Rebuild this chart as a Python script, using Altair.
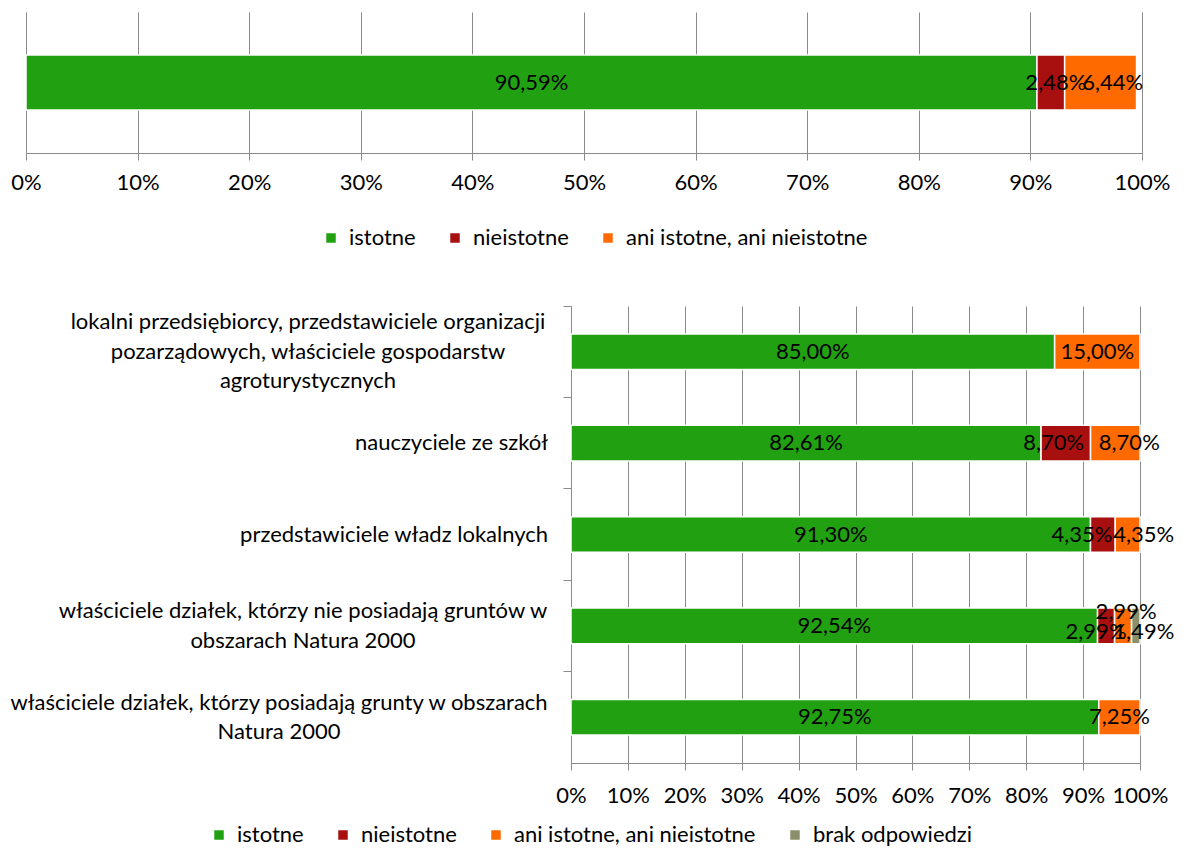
import altair as alt
import pandas as pd

FONT = "Lato"
FS = 22
GRID = "#8a8a8a"
LINE_H = 29.5

categories = ["istotne", "nieistotne", "ani istotne, ani nieistotne", "brak odpowiedzi"]
colors = ["#21A112", "#A80F0F", "#FF6A00", "#8C8F6B"]

# top chart (single bar)
top_values = [90.59, 2.48, 6.44]

# bottom chart
group_labels = [
    "lokalni przedsiębiorcy, przedstawiciele organizacji\npozarządowych, właściciele gospodarstw\nagroturystycznych",
    "nauczyciele ze szkół",
    "przedstawiciele władz lokalnych",
    "właściciele działek, którzy nie posiadają gruntów w\nobszarach Natura 2000",
    "właściciele działek, którzy posiadają grunty w obszarach\nNatura 2000",
]
istotne = [85.00, 82.61, 91.30, 92.54, 92.75]
nieistotne = [0, 8.70, 4.35, 2.99, 0]
ani = [15.00, 8.70, 4.35, 2.99, 7.25]
brak = [0, 0, 0, 1.49, 0]

tick_values = [0, 0.1, 0.2, 0.3, 0.4, 0.5, 0.6, 0.7, 0.8, 0.9, 1.0]

# label nudges (pixels) where Excel moved overlapping labels apart
top_nudge = {1: (5, 0), 2: (12, 0)}
bottom_nudge = {
    (1, 1): (-12, 0), (1, 2): (14, 0),
    (2, 1): (-21, 0), (2, 2): (16, 0),
    (3, 1): (-10, 6), (3, 2): (3, -14), (3, 3): (8, 6),
}
# category-label placement in the label panel (pixels): right edge of
# single-line labels, and centre of each multi-line label block
LABEL_RIGHT = 522
label_center = {0: 282, 3: 277, 4: 253}


def pct_label(v):
    return f"{v:.2f}".replace(".", ",") + "%"


top_df = pd.DataFrame({
    "grp": ["all"] * len(top_values),
    "gi": [0] * len(top_values),
    "ci": list(range(len(top_values))),
    "cat": categories[:len(top_values)],
    "value": [v / 100 for v in top_values],
    "label": [pct_label(v) for v in top_values],
})

rows = []
series = [istotne, nieistotne, ani, brak]
for gi, g in enumerate(group_labels):
    for ci, cat in enumerate(categories):
        v = series[ci][gi]
        if v > 0:
            rows.append(dict(grp=g, gi=gi, ci=ci, cat=cat, value=v / 100, label=pct_label(v)))
bot_df = pd.DataFrame(rows)
grp_df = pd.DataFrame({"grp": group_labels, "gi": list(range(len(group_labels)))})


def x_axis(pad):
    return alt.Axis(format=".0%", values=tick_values, grid=True, gridColor=GRID, gridWidth=1,
                    domainColor=GRID, domainWidth=1, tickColor=GRID, tickWidth=1, tickSize=7,
                    labelPadding=pad, labelFont=FONT, labelFontSize=FS, labelColor="#000",
                    labelOverlap=False, labelFlush=False, title=None)


def build(df, cats, y_sort, y_axis, legend, nudges, keyf, pad):
    base = alt.Chart(df).transform_stack(
        stack="value", as_=["v0", "v1"], groupby=["grp"], sort=[alt.SortField("ci")]
    ).transform_calculate(mid="(datum.v0 + datum.v1) / 2")
    yenc = alt.Y("grp:N", sort=y_sort, axis=y_axis,
                 scale=alt.Scale(paddingInner=0, paddingOuter=0))
    bars = base.mark_bar(stroke="white", strokeWidth=1.5, height={"band": 0.39}).encode(
        x=alt.X("v0:Q", scale=alt.Scale(domain=[0, 1], nice=False), axis=x_axis(pad)),
        x2="v1:Q",
        y=yenc,
        color=alt.Color("cat:N", scale=alt.Scale(domain=cats, range=colors[:len(cats)]),
                        legend=legend),
    )
    layers = [bars]
    conds = []
    for key, (dx, dy) in nudges.items():
        cond = keyf(key)
        conds.append(cond)
        layers.append(base.transform_filter(cond).mark_text(
            font=FONT, fontSize=FS, color="#000", dx=dx, dy=dy).encode(
            x="mid:Q", y=alt.Y("grp:N", sort=y_sort), text="label:N"))
    default_filter = "!(" + " || ".join(conds) + ")" if conds else "true"
    layers.insert(1, base.transform_filter(default_filter).mark_text(
        font=FONT, fontSize=FS, color="#000").encode(
        x="mid:Q", y=alt.Y("grp:N", sort=y_sort), text="label:N"))
    return layers


legend_common = dict(orient="none", direction="horizontal", title=None, symbolType="square",
                     symbolSize=90, symbolStrokeWidth=0, labelFont=FONT, labelFontSize=FS,
                     labelColor="#000", columnPadding=28, labelOffset=7, labelLimit=0)

top_layers = build(
    top_df, categories[:3], ["all"],
    alt.Axis(labels=False, ticks=False, domain=False, grid=False, title=None, minExtent=18, maxExtent=18),
    alt.Legend(legendX=294, legendY=215, **legend_common),
    top_nudge, lambda k: f"datum.ci == {k}", 12,
)
top = alt.layer(*top_layers).properties(width=1116, height=141)

bot_layers = build(
    bot_df, categories, group_labels,
    alt.Axis(labels=False, ticks=True, tickSize=8, tickColor=GRID, bandPosition=0, domain=True,
             domainColor=GRID, grid=False, title=None),
    alt.Legend(legendX=-363, legendY=518, **legend_common),
    bottom_nudge, lambda k: f"(datum.gi == {k[0]} && datum.ci == {k[1]})", 15,
)
bars_panel = alt.layer(*bot_layers).properties(width=569, height=457)

# category label panel
ly = alt.Y("grp:N", sort=group_labels, axis=None, scale=alt.Scale(paddingInner=0, paddingOuter=0))
label_layers = [
    alt.Chart(grp_df).transform_filter(
        "indexof(datum.grp, '\\n') < 0").mark_text(
        font=FONT, fontSize=FS, color="#000", align="right", baseline="middle").encode(
        y=ly, x=alt.value(LABEL_RIGHT), text="grp:N")
]
for gi, cx in label_center.items():
    n_lines = group_labels[gi].count("\n") + 1
    label_layers.append(
        alt.Chart(grp_df).transform_filter(f"datum.gi == {gi}").mark_text(
            font=FONT, fontSize=FS, color="#000", align="center", baseline="middle",
            lineBreak="\n", lineHeight=LINE_H, dy=-(n_lines - 1) * LINE_H / 2).encode(
            y=ly, x=alt.value(cx), text="grp:N"))
label_panel = alt.layer(*label_layers).properties(width=545, height=457)

bottom = alt.hconcat(label_panel, bars_panel, spacing=0, bounds="flush").resolve_scale(
    y="independent", color="independent")

chart = alt.vconcat(top, bottom, spacing=56).resolve_scale(
    color="independent", x="independent", y="independent"
).properties(
    padding={"left": 0, "top": 4, "right": 0, "bottom": 0}
).configure_view(stroke=None)

chart.save("out.html", embed_options={"renderer": "svg", "actions": False})
